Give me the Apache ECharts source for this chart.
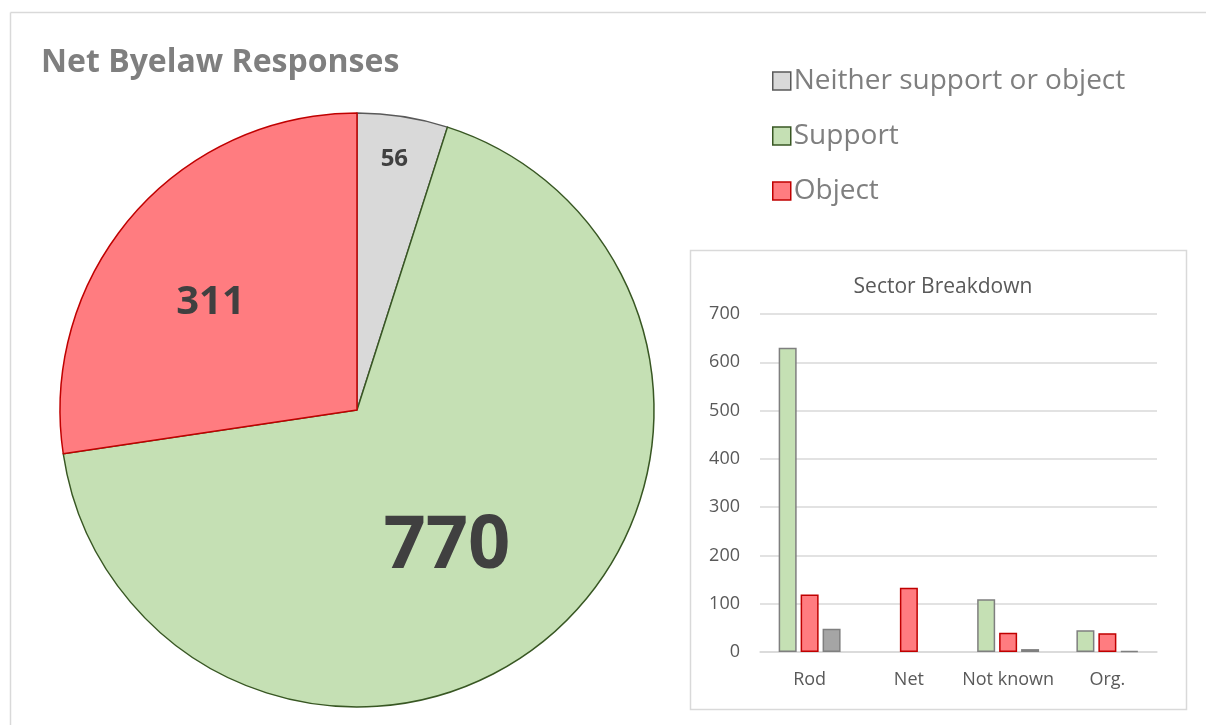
<!DOCTYPE html>
<html>
<head>
<meta charset="utf-8">
<script src="https://cdn.jsdelivr.net/npm/echarts@6/dist/echarts.min.js"></script>
<style>
html,body{margin:0;padding:0;background:#fff;}
#c{width:1206px;height:725px;}
</style>
</head>
<body>
<div id="c"></div>
<script>
// ---- data ----
const pieNames = ['Neither support or object', 'Support', 'Object'];
const pieValues = [56, 770, 311];
const barCategories = ['Rod', 'Net', 'Not known', 'Org.'];
const supportValues = [630, 0, 109, 45];
const objectValues = [119, 133, 40, 39];
const neitherValues = [48, 0, 6, 2];
const yTicks = { min: 0, max: 700, interval: 100 };

// ---- styles ----
const FONT = '"Open Sans", "Noto Sans", sans-serif';
const pieStyles = [
  { color: '#d9d9d9', borderColor: '#595959', borderWidth: 1.5 },
  { color: '#c5e0b4', borderColor: '#385723', borderWidth: 1.5 },
  { color: '#ff7c80', borderColor: '#c00000', borderWidth: 1.5 }
];
const labelSizes = [24, 74, 40];
const labelRadialFrac = [0.86, 0.54, 0.62];
const labelNudge = [[-2, 2], [-14, 15], [-7, 13]];
const pieCenter = [357, 410];
const pieRadius = 297;

const total = pieValues.reduce((a, b) => a + b, 0);
const midAngles = [];
let acc = 0;
pieValues.forEach(v => { midAngles.push((acc + v / 2) / total * 2 * Math.PI); acc += v; });

// zero-valued bars are not drawn (no border line)
const barData = arr => arr.map(v => v === 0 ? { value: 0, itemStyle: { borderWidth: 0 } } : v);

const chart = echarts.init(document.getElementById('c'), null, { renderer: 'canvas' });

const option = {
  backgroundColor: '#fff',
  animation: false,
  graphic: [
    { type: 'line', shape: { x1: 10.5, y1: 12.5, x2: 1206, y2: 12.5 }, style: { stroke: '#d9d9d9', lineWidth: 1.5 }, silent: true },
    { type: 'line', shape: { x1: 10.5, y1: 12.5, x2: 10.5, y2: 725 }, style: { stroke: '#d9d9d9', lineWidth: 1.5 }, silent: true },
    { type: 'rect', shape: { x: 690.5, y: 250.5, width: 496, height: 459 }, style: { fill: '#fff', stroke: '#d9d9d9', lineWidth: 1.5 }, silent: true, z: -1 }
  ],
  title: [
    { text: 'Net Byelaw Responses', left: 36, top: 42,
      textStyle: { fontFamily: FONT, fontSize: 32, fontWeight: 'bold', color: '#7f7f7f' } },
    { text: 'Sector Breakdown', left: 938, top: 272, textAlign: 'center',
      textStyle: { fontFamily: FONT, fontSize: 21, fontWeight: 'normal', color: '#595959' } }
  ],
  legend: {
    orient: 'vertical', left: 767, top: 62, itemWidth: 18, itemHeight: 18, itemGap: 27,
    icon: 'rect',
    textStyle: { fontFamily: FONT, fontSize: 28, color: '#7f7f7f', padding: [0, 0, 0, -2] },
    data: pieNames.map((n, i) => ({ name: n, itemStyle: pieStyles[i] }))
  },
  grid: { left: 760, right: 49, top: 314, bottom: 73, containLabel: false },
  xAxis: {
    type: 'category', data: barCategories,
    axisLine: { lineStyle: { color: '#d9d9d9', width: 1.5 } },
    axisTick: { show: false },
    axisLabel: { interval: 0, fontFamily: FONT, fontSize: 18, color: '#595959', margin: 19 }
  },
  yAxis: {
    type: 'value', min: yTicks.min, max: yTicks.max, interval: yTicks.interval,
    axisLine: { show: false }, axisTick: { show: false },
    splitLine: { lineStyle: { color: '#d9d9d9', width: 1.5 } },
    axisLabel: { fontFamily: FONT, fontSize: 18, color: '#595959', margin: 20 }
  },
  series: [
    {
      type: 'pie', name: 'Net Byelaw Responses',
      center: pieCenter, radius: pieRadius, startAngle: 90, clockwise: true,
      data: pieNames.map((n, i) => ({
        name: n, value: pieValues[i], itemStyle: pieStyles[i],
        label: { fontSize: labelSizes[i] }
      })),
      label: {
        show: true, position: 'inside', formatter: '{c}',
        fontFamily: FONT, fontWeight: 'bold', color: '#404040'
      },
      labelLayout: function (p) {
        const i = p.dataIndex;
        const a = midAngles[i];
        const d = labelRadialFrac[i] * pieRadius;
        return {
          x: pieCenter[0] + d * Math.sin(a) + labelNudge[i][0],
          y: pieCenter[1] - d * Math.cos(a) + labelNudge[i][1],
          align: 'center', verticalAlign: 'middle'
        };
      },
      emphasis: { disabled: true }
    },
    {
      type: 'bar', name: 'Support', data: barData(supportValues), barWidth: 18, barGap: '22%',
      itemStyle: { color: '#c5e0b4', borderColor: '#7f7f7f', borderWidth: 1.5 }
    },
    {
      type: 'bar', name: 'Object', data: barData(objectValues), barWidth: 18, barGap: '22%',
      itemStyle: { color: '#ff7c80', borderColor: '#c00000', borderWidth: 1.5 }
    },
    {
      type: 'bar', name: 'Neither support or object', data: barData(neitherValues), barWidth: 18, barGap: '22%',
      itemStyle: { color: '#a5a5a5', borderColor: '#7f7f7f', borderWidth: 1.5 }
    }
  ]
};
chart.setOption(option);
</script>
</body>
</html>
